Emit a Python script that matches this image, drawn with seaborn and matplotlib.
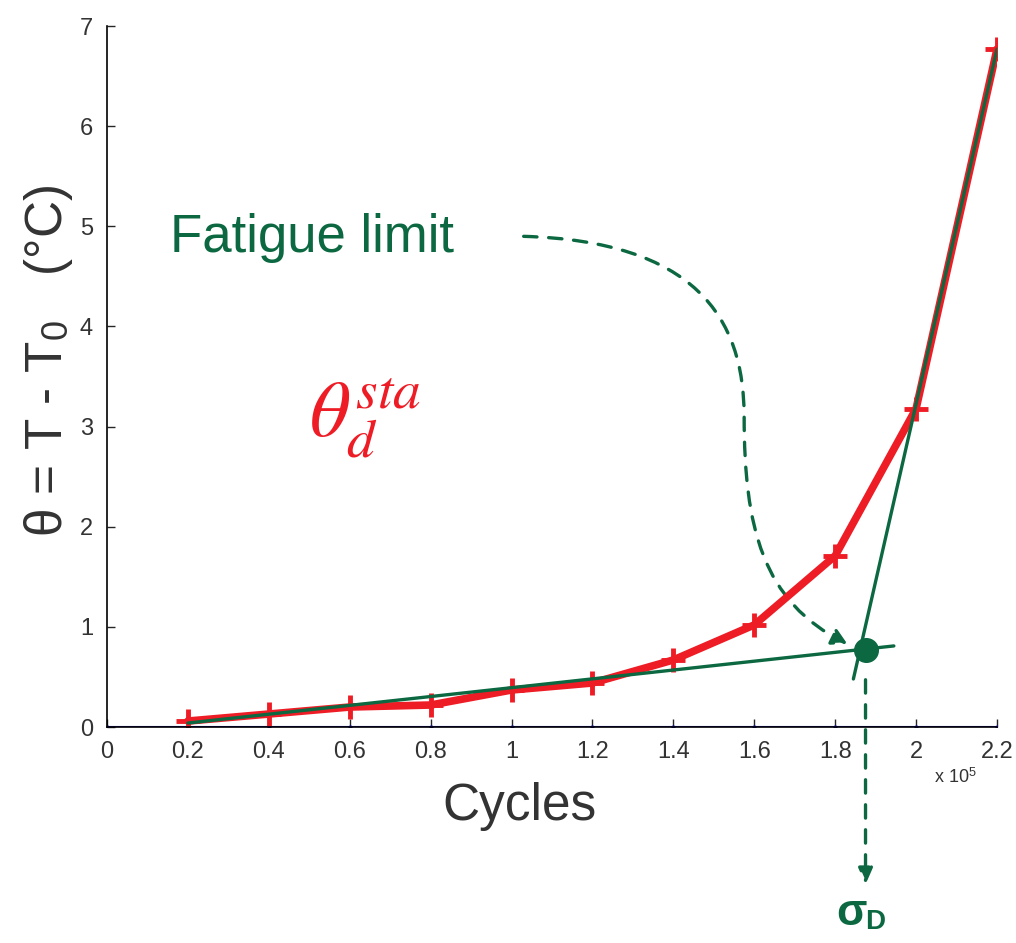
import numpy as np
import pandas as pd
import seaborn as sns
from matplotlib import pyplot as plt
from matplotlib.path import Path
from matplotlib.patches import FancyArrowPatch

# cycles (x 1e5) and stabilised temperature rise
cycles = [0.2, 0.4, 0.6, 0.8, 1.0, 1.2, 1.4, 1.6, 1.8, 2.0, 2.2]
theta = [0.06, 0.13, 0.20, 0.22, 0.37, 0.44, 0.67, 1.02, 1.71, 3.18, 6.77]

# baseline series (blue, at zero)
base_x = [0.0, 0.2, 0.4, 0.6, 0.8, 1.0, 1.2, 1.4, 1.6, 1.8, 2.0, 2.2]
base_y = [0.0] * len(base_x)

# two fitted straight lines
fit1_x = [0.2, 1.945]
fit1_y = [0.04, 0.81]
fit2_x = [1.845, 2.2]
fit2_y = [0.48, 6.77]

# fatigue limit point
limit_x = 1.875
limit_y = 0.77

xticks = [0, 0.2, 0.4, 0.6, 0.8, 1.0, 1.2, 1.4, 1.6, 1.8, 2.0, 2.2]
xticklabels = ["0", "0.2", "0.4", "0.6", "0.8", "1", "1.2", "1.4", "1.6", "1.8", "2", "2.2"]
yticks = [0, 1, 2, 3, 4, 5, 6, 7]

RED = "#ee1c25"
GREEN = "#0b6841"
TEXT = "#333333"

sns.set_theme(style="ticks")
plt.rcParams["font.family"] = ["Liberation Sans", "DejaVu Sans"]
plt.rcParams["mathtext.fontset"] = "stix"

fig = plt.figure(figsize=(10.16, 9.43), dpi=100)
ax = fig.add_axes([0.1053, 0.229, 0.876, 0.7434])

base_df = pd.DataFrame({"x": base_x, "y": base_y})
sns.lineplot(data=base_df, x="x", y="y", ax=ax, color="#1010c0", lw=1.5,
             marker="o", markersize=3, markeredgewidth=0)

df = pd.DataFrame({"cycles": cycles, "theta": theta})
sns.lineplot(data=df, x="cycles", y="theta", ax=ax, color=RED, lw=5.5,
             marker="+", markersize=17, markeredgewidth=3.5, markeredgecolor=RED)

ax.plot(fit1_x, fit1_y, color=GREEN, lw=2.4)
ax.plot(fit2_x, fit2_y, color=GREEN, lw=2.4)
ax.plot([limit_x], [limit_y], "o", color=GREEN, markersize=17)

ax.set_xlim(0, 2.2)
ax.set_ylim(0, 7)
ax.set_xticks(xticks)
ax.set_xticklabels(xticklabels)
ax.set_yticks(yticks)
ax.tick_params(direction="in", length=6, width=1, labelsize=17,
               labelcolor=TEXT, pad=10)
sns.despine(ax=ax)
for s in ["left", "bottom"]:
    ax.spines[s].set_linewidth(1.2)
    ax.spines[s].set_color("black")

ax.set_xlabel("Cycles", fontsize=37, color=TEXT)
ax.xaxis.set_label_coords(0.463, -0.078)
ax.set_ylabel(r"$\mathregular{\theta}$ = T - T$_\mathregular{0}$   (°C)",
              fontsize=37, color=TEXT)
ax.yaxis.set_label_coords(-0.036, 0.522)
fig.text(0.919, 0.170, r"x 10$^\mathregular{5}$", fontsize=13, color=TEXT)

ax.text(0.155, 4.88, "Fatigue limit", fontsize=38, color=GREEN, va="center")
ax.text(0.50, 2.9, r"$\theta_d^{sta}$", fontsize=57, color=RED)

# dashed S-shaped arrow from label to the limit point
verts = [(1.03, 4.9), (1.45, 4.85), (1.575, 4.1), (1.575, 3.1),
         (1.575, 2.0), (1.62, 1.25), (1.83, 0.83)]
codes = [Path.MOVETO] + [Path.CURVE4] * 6
arr = FancyArrowPatch(path=Path(verts, codes), arrowstyle="-|>,head_length=9,head_width=5",
                      color=GREEN, lw=2.4, linestyle=(0, (4, 3.5)),
                      transform=ax.transData)
ax.add_patch(arr)

# dashed vertical arrow down to sigma_D
ax.annotate("", xy=(limit_x, -1.6), xytext=(limit_x, 0.5),
            xycoords="data", annotation_clip=False,
            arrowprops=dict(arrowstyle="-|>,head_length=0.8,head_width=0.35",
                            color=GREEN, lw=2.4, linestyle=(0, (4, 3.5))))
ax.text(1.84, -1.86, "σ", fontsize=32, fontweight="bold", color=GREEN,
        ha="center", va="center", clip_on=False)
ax.text(1.898, -1.95, "D", fontsize=20, fontweight="bold", color=GREEN,
        ha="center", va="center", clip_on=False)

fig.savefig("out.png", dpi=100)
